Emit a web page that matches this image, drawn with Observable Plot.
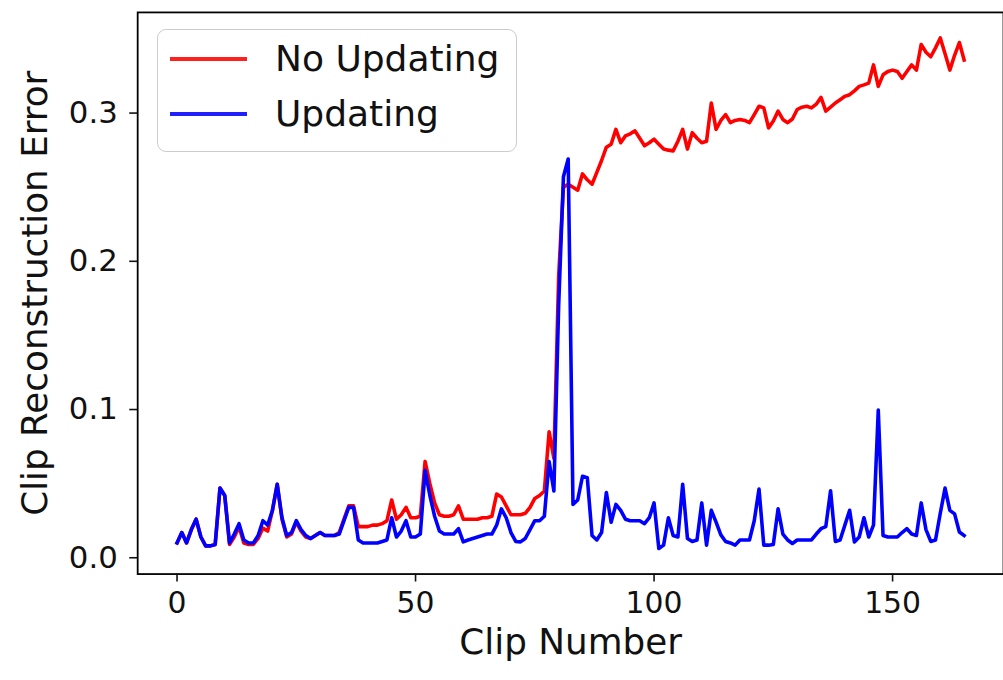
<!DOCTYPE html>
<html>
<head>
<meta charset="utf-8">
<script src="https://cdn.jsdelivr.net/npm/d3@7"></script>
<script src="https://cdn.jsdelivr.net/npm/@observablehq/plot@0.6"></script>
<style>
  html, body { margin: 0; padding: 0; background: white; overflow: hidden; }
  #wrap { position: relative; width: 1003px; height: 680px; overflow: hidden; font-family: "DejaVu Sans", sans-serif; }
  #legend { position: absolute; left: 157px; top: 29px; width: 358px; height: 121px;
            border: 1.5px solid #cccccc; border-radius: 9px; background: rgba(255,255,255,0.8); }
  .row { position: absolute; left: 0; height: 40px; display: flex; align-items: center; }
  .swatch { width: 77px; height: 4px; margin-left: 12px; margin-right: 28px; }
  .lab { font-size: 36px; color: #111; line-height: 40px; }
</style>
</head>
<body>
<div id="wrap">
  <div id="chart"></div>
  <div id="legend">
    <div class="row" style="top:9px"><div class="swatch" style="background:#ff2020"></div><span class="lab">No Updating</span></div>
    <div class="row" style="top:64px"><div class="swatch" style="background:#2020ff"></div><span class="lab">Updating</span></div>
  </div>
</div>
<script>
// Reconstruction error per clip, with and without model updating (clips 0-165)
const noUpdating = [
  0.010, 0.017, 0.010, 0.019, 0.026, 0.014, 0.008, 0.008, 0.009, 0.047,
  0.042, 0.009, 0.014, 0.021, 0.010, 0.009, 0.009, 0.013, 0.020, 0.018,
  0.032, 0.0496, 0.026, 0.014, 0.016, 0.024, 0.018, 0.014, 0.013, 0.015,
  0.017, 0.015, 0.015, 0.015, 0.017, 0.026, 0.035, 0.035, 0.021, 0.021,
  0.021, 0.022, 0.022, 0.023, 0.025, 0.039, 0.026, 0.029, 0.034, 0.027,
  0.027, 0.028, 0.065, 0.050, 0.037, 0.029, 0.028, 0.028, 0.029, 0.035,
  0.026, 0.026, 0.026, 0.026, 0.027, 0.027, 0.028, 0.043, 0.041, 0.035,
  0.029, 0.029, 0.029, 0.030, 0.034, 0.040, 0.042, 0.045, 0.085, 0.067,
  0.190, 0.250, 0.252, 0.250, 0.248, 0.259, 0.255, 0.252, 0.260, 0.268,
  0.277, 0.279, 0.289, 0.280, 0.2846, 0.286, 0.288, 0.283, 0.278, 0.280,
  0.2824, 0.279, 0.2757, 0.275, 0.2745, 0.281, 0.289, 0.2757, 0.2868, 0.283,
  0.280, 0.281, 0.3068, 0.289, 0.295, 0.299, 0.2935, 0.295, 0.2957, 0.295,
  0.2935, 0.299, 0.3046, 0.3035, 0.290, 0.2946, 0.3013, 0.2957, 0.2935, 0.296,
  0.3024, 0.304, 0.3046, 0.3035, 0.306, 0.3106, 0.3013, 0.304, 0.3068, 0.309,
  0.3113, 0.3124, 0.315, 0.318, 0.319, 0.3202, 0.3325, 0.318, 0.3258, 0.328,
  0.329, 0.328, 0.3235, 0.328, 0.3325, 0.329, 0.3463, 0.341, 0.338, 0.344,
  0.3507, 0.340, 0.329, 0.339, 0.3476, 0.3358
];
const updating = [
  0.010, 0.017, 0.010, 0.019, 0.026, 0.014, 0.008, 0.008, 0.009, 0.047,
  0.042, 0.010, 0.016, 0.023, 0.012, 0.010, 0.010, 0.015, 0.025, 0.022,
  0.032, 0.0496, 0.027, 0.015, 0.017, 0.025, 0.019, 0.015, 0.013, 0.015,
  0.017, 0.015, 0.015, 0.015, 0.016, 0.025, 0.034, 0.034, 0.012, 0.010,
  0.010, 0.010, 0.010, 0.011, 0.012, 0.027, 0.014, 0.018, 0.025, 0.014,
  0.014, 0.016, 0.059, 0.042, 0.028, 0.018, 0.016, 0.016, 0.016, 0.0196,
  0.0107, 0.012, 0.013, 0.014, 0.015, 0.016, 0.016, 0.022, 0.033, 0.027,
  0.017, 0.011, 0.0107, 0.013, 0.019, 0.025, 0.025, 0.028, 0.065, 0.045,
  0.170, 0.257, 0.269, 0.036, 0.039, 0.055, 0.054, 0.015, 0.012, 0.017,
  0.044, 0.024, 0.036, 0.032, 0.026, 0.025, 0.025, 0.025, 0.023, 0.027,
  0.037, 0.0062, 0.0085, 0.027, 0.015, 0.014, 0.0496, 0.013, 0.011, 0.012,
  0.037, 0.0085, 0.032, 0.024, 0.0154, 0.011, 0.010, 0.0085, 0.012, 0.012,
  0.012, 0.025, 0.0463, 0.0085, 0.0085, 0.009, 0.033, 0.016, 0.012, 0.0096,
  0.012, 0.012, 0.012, 0.012, 0.016, 0.0196, 0.021, 0.0452, 0.011, 0.012,
  0.022, 0.032, 0.0107, 0.014, 0.027, 0.014, 0.022, 0.0997, 0.015, 0.014,
  0.014, 0.014, 0.017, 0.0196, 0.016, 0.015, 0.037, 0.019, 0.011, 0.012,
  0.030, 0.047, 0.032, 0.0296, 0.0174, 0.015
];
const clipNumber = d3.range(noUpdating.length);
const xTicks = [0, 50, 100, 150];
const yTicks = [0.0, 0.1, 0.2, 0.3];

const rows = (vals) => clipNumber.map((c, i) => ({clip: c, err: vals[i]}));
const lineStyle = {x: "clip", y: "err", strokeWidth: 3.6, strokeLinejoin: "round", strokeLinecap: "square"};

const chart = Plot.plot({
  width: 1009,
  height: 680,
  marginLeft: 138,
  marginRight: 0,
  marginTop: 12,
  marginBottom: 103,
  style: {fontFamily: "DejaVu Sans", fontSize: "30px", color: "#111", background: "white"},
  x: {domain: [-8.25, 173.25]},
  y: {domain: [-0.0110, 0.3679]},
  marks: [
    Plot.lineY(rows(noUpdating), {...lineStyle, stroke: "#ff0000"}),
    Plot.lineY(rows(updating), {...lineStyle, stroke: "#0000ff"}),
    Plot.frame({stroke: "black", strokeWidth: 1.8}),
    Plot.axisX({ticks: xTicks, tickSize: 8, tickPadding: 10, strokeWidth: 1.6, fontSize: 30, label: null}),
    Plot.axisY({ticks: yTicks, tickFormat: d3.format(".1f"), tickSize: 8, tickPadding: 12, strokeWidth: 1.6, fontSize: 31, label: null}),
    Plot.text(["Clip Number"], {frameAnchor: "bottom", dy: 80, fontSize: 36, fill: "#111"}),
    Plot.text(["Clip Reconstruction Error"], {frameAnchor: "left", dx: -103, rotate: -90, textAnchor: "middle", fontSize: 36, fill: "#111"})
  ]
});
document.getElementById("chart").appendChild(chart);
</script>
</body>
</html>
